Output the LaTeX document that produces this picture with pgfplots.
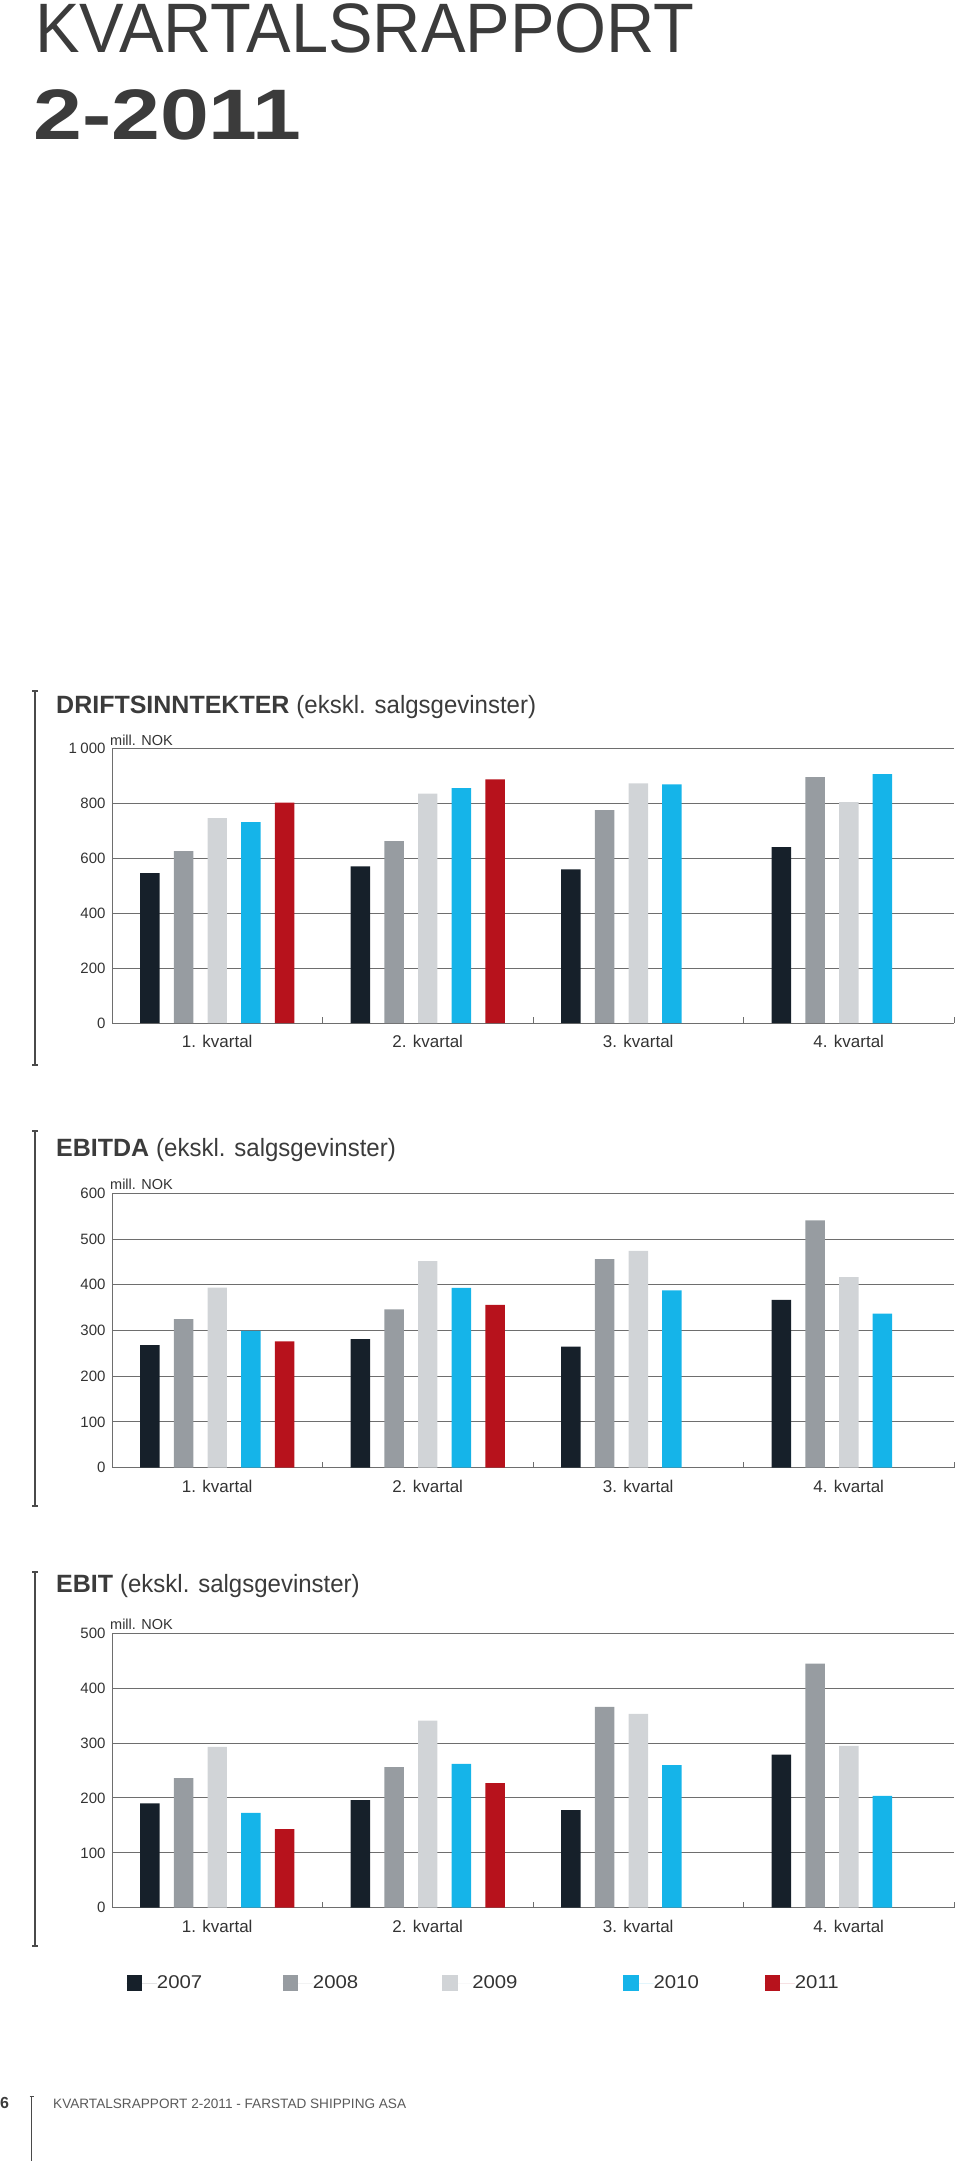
\documentclass[border=0pt]{standalone}
\usepackage{fontspec}
\setmainfont{Liberation Sans}
\usepackage{graphicx}
\usepackage{pgfplots}
\pgfplotsset{compat=1.18}
\definecolor{c07}{HTML}{16202A}
\definecolor{c08}{HTML}{979CA1}
\definecolor{c09}{HTML}{D1D4D7}
\definecolor{c10}{HTML}{15B4E9}
\definecolor{c11}{HTML}{B7121C}
\definecolor{gridc}{HTML}{6E6E6E}
\definecolor{labc}{HTML}{333333}
\definecolor{hdr}{HTML}{3B3B3B}
\definecolor{brc}{HTML}{4A4A4A}
\definecolor{foot}{HTML}{5A5A5A}
\newcommand{\fs}[1]{\fontsize{#1}{#1}\selectfont}
\newcommand{\sub}[1]{\scalebox{0.96}[1]{#1}}
\newcommand{\yr}[2]{\makebox[#1][l]{\scalebox{1.1}[1]{#2}}}
\pgfplotsset{
  kv/.style={
    scale only axis, width=842pt, height=274.4pt,
    xmin=0, xmax=4, ymin=0, clip=false,
    axis x line*=bottom, axis y line*=left,
    axis line style={-, draw=gridc, line width=1pt},
    xtick={0.5,1.5,2.5,3.5},
    xticklabels={1. kvartal,2. kvartal,3. kvartal,4. kvartal},
    xticklabel style={font=\fs{17}, text=labc, yshift=-9pt},
    major x tick style={draw=none},
    extra x ticks={1,2,3,4},
    extra x tick labels={},
    extra x tick style={major tick length=6pt, tick align=inside, major x tick style={draw=gridc, line width=1pt}},
    ymajorgrids, major grid style={draw=gridc, line width=1pt},
    yticklabel style={font=\fs{15}, text=labc, xshift=-3pt},
    major y tick style={draw=none},
  },
  b07/.style={ybar, bar width=0.0926, bar shift=-0.32, fill=c07, draw=none},
  b08/.style={ybar, bar width=0.0926, bar shift=-0.16, fill=c08, draw=none},
  b09/.style={ybar, bar width=0.0926, bar shift=0, fill=c09, draw=none},
  b10/.style={ybar, bar width=0.0926, bar shift=0.16, fill=c10, draw=none},
  b11/.style={ybar, bar width=0.0926, bar shift=0.32, fill=c11, draw=none},
}
\begin{document}
\begin{tikzpicture}
\path[use as bounding box] (0,0) rectangle (960pt,-2161pt);

% header
\node[anchor=base west, inner sep=0pt, text=hdr] at (35pt,-52.3pt) {\scalebox{0.954}[1]{\fs{70}KVARTALSRAPPORT}};
\node[anchor=base west, inner sep=0pt, text=hdr] at (33pt,-139.3pt) {\scalebox{1.228}[1]{\fs{71.5}\bfseries 2-2011}};

% ---------- Chart 1 ----------
\draw[brc, line width=1.5pt] (35pt,-691pt) -- (35pt,-1065pt);
\draw[brc, line width=1.2pt] (32.3pt,-691pt) -- (37.7pt,-691pt) (32.3pt,-1065pt) -- (37.7pt,-1065pt);
\node[anchor=base west, inner sep=0pt, text=hdr] at (56pt,-713pt) {\fs{25}\textbf{DRIFTSINNTEKTER} \sub{(ekskl. salgsgevinster)}};
\node[anchor=base west, inner sep=0pt, text=labc] at (110pt,-745pt) {\fs{14.5}mill. NOK};
\begin{axis}[kv, at={(112pt,-1023pt)}, anchor=south west, ymax=1000,
  ytick={0,200,400,600,800,1000},
  yticklabels={0,200,400,600,800,{1\hspace{3.5pt}000}}]
\addplot[b07] coordinates {(0.5,546) (1.5,571) (2.5,560) (3.5,641)};
\addplot[b08] coordinates {(0.5,626) (1.5,663) (2.5,776) (3.5,896)};
\addplot[b09] coordinates {(0.5,747) (1.5,836) (2.5,873) (3.5,805)};
\addplot[b10] coordinates {(0.5,732) (1.5,856) (2.5,870) (3.5,907)};
\addplot[b11] coordinates {(0.5,803) (1.5,888)};
\end{axis}

% ---------- Chart 2 ----------
\draw[brc, line width=1.5pt] (35pt,-1131pt) -- (35pt,-1506pt);
\draw[brc, line width=1.2pt] (32.3pt,-1131pt) -- (37.7pt,-1131pt) (32.3pt,-1506pt) -- (37.7pt,-1506pt);
\node[anchor=base west, inner sep=0pt, text=hdr] at (56pt,-1156.7pt) {\fs{25}\textbf{EBITDA} \sub{(ekskl. salgsgevinster)}};
\node[anchor=base west, inner sep=0pt, text=labc] at (110pt,-1189.3pt) {\fs{14.5}mill. NOK};
\begin{axis}[kv, at={(112pt,-1467.7pt)}, anchor=south west, ymax=600,
  ytick={0,100,200,300,400,500,600},
  yticklabels={0,100,200,300,400,500,600}]
\addplot[b07] coordinates {(0.5,268) (1.5,281) (2.5,265) (3.5,367)};
\addplot[b08] coordinates {(0.5,325) (1.5,346) (2.5,456) (3.5,541)};
\addplot[b09] coordinates {(0.5,394) (1.5,452) (2.5,474) (3.5,417)};
\addplot[b10] coordinates {(0.5,299) (1.5,393) (2.5,388) (3.5,337)};
\addplot[b11] coordinates {(0.5,276) (1.5,356)};
\end{axis}

% ---------- Chart 3 ----------
\draw[brc, line width=1.5pt] (35pt,-1572pt) -- (35pt,-1946pt);
\draw[brc, line width=1.2pt] (32.3pt,-1572pt) -- (37.7pt,-1572pt) (32.3pt,-1946pt) -- (37.7pt,-1946pt);
\node[anchor=base west, inner sep=0pt, text=hdr] at (56pt,-1592.5pt) {\fs{25}\textbf{EBIT} \sub{(ekskl. salgsgevinster)}};
\node[anchor=base west, inner sep=0pt, text=labc] at (110pt,-1629.3pt) {\fs{14.5}mill. NOK};
\begin{axis}[kv, at={(112pt,-1907.7pt)}, anchor=south west, ymax=500,
  ytick={0,100,200,300,400,500},
  yticklabels={0,100,200,300,400,500},
  legend columns=5, legend cell align=left,
  legend style={at={(0.01746,-0.2744)}, anchor=west, draw=none, fill=none,
    inner sep=0pt, outer sep=0pt, column sep=0pt,
    /tikz/every even column/.append style={column sep=0pt},
    nodes={inner sep=0pt, font=\fs{18.5}, text=labc}}]
\addplot[b07, legend image code/.code={\fill[c07] (0pt,-7.8pt) rectangle (15.6pt,7.8pt); \path (0pt,0pt) -- (30.3pt,0pt);}] coordinates {(0.5,190) (1.5,196) (2.5,178) (3.5,279)};
\addlegendentry{\yr{125.7pt}{2007}}
\addplot[b08, legend image code/.code={\fill[c08] (0pt,-7.8pt) rectangle (15.6pt,7.8pt); \path (0pt,0pt) -- (30.3pt,0pt);}] coordinates {(0.5,236) (1.5,256) (2.5,366) (3.5,445)};
\addlegendentry{\yr{129pt}{2008}}
\addplot[b09, legend image code/.code={\fill[c09] (0pt,-7.8pt) rectangle (15.6pt,7.8pt); \path (0pt,0pt) -- (30.3pt,0pt);}] coordinates {(0.5,293) (1.5,341) (2.5,353) (3.5,295)};
\addlegendentry{\yr{151pt}{2009}}
\addplot[b10, legend image code/.code={\fill[c10] (0pt,-7.8pt) rectangle (15.6pt,7.8pt); \path (0pt,0pt) -- (30.3pt,0pt);}] coordinates {(0.5,173) (1.5,262) (2.5,260) (3.5,204)};
\addlegendentry{\yr{111pt}{2010}}
\addplot[b11, legend image code/.code={\fill[c11] (0pt,-7.8pt) rectangle (15.6pt,7.8pt); \path (0pt,0pt) -- (30.3pt,0pt);}] coordinates {(0.5,143) (1.5,227)};
\addlegendentry{\yr{60pt}{2011}}
\end{axis}

% footer
\node[anchor=base west, inner sep=0pt, text=hdr] at (0pt,-2108pt) {\fs{16}\bfseries 6};
\draw[brc, line width=1.2pt] (31.7pt,-2096pt) -- (31.7pt,-2161pt);
\draw[brc, line width=1pt] (29.5pt,-2096pt) -- (33.9pt,-2096pt);
\node[anchor=base west, inner sep=0pt, text=foot] at (53pt,-2108pt) {\fs{13.6}KVARTALSRAPPORT 2-2011 - FARSTAD SHIPPING ASA};
\end{tikzpicture}
\end{document}
